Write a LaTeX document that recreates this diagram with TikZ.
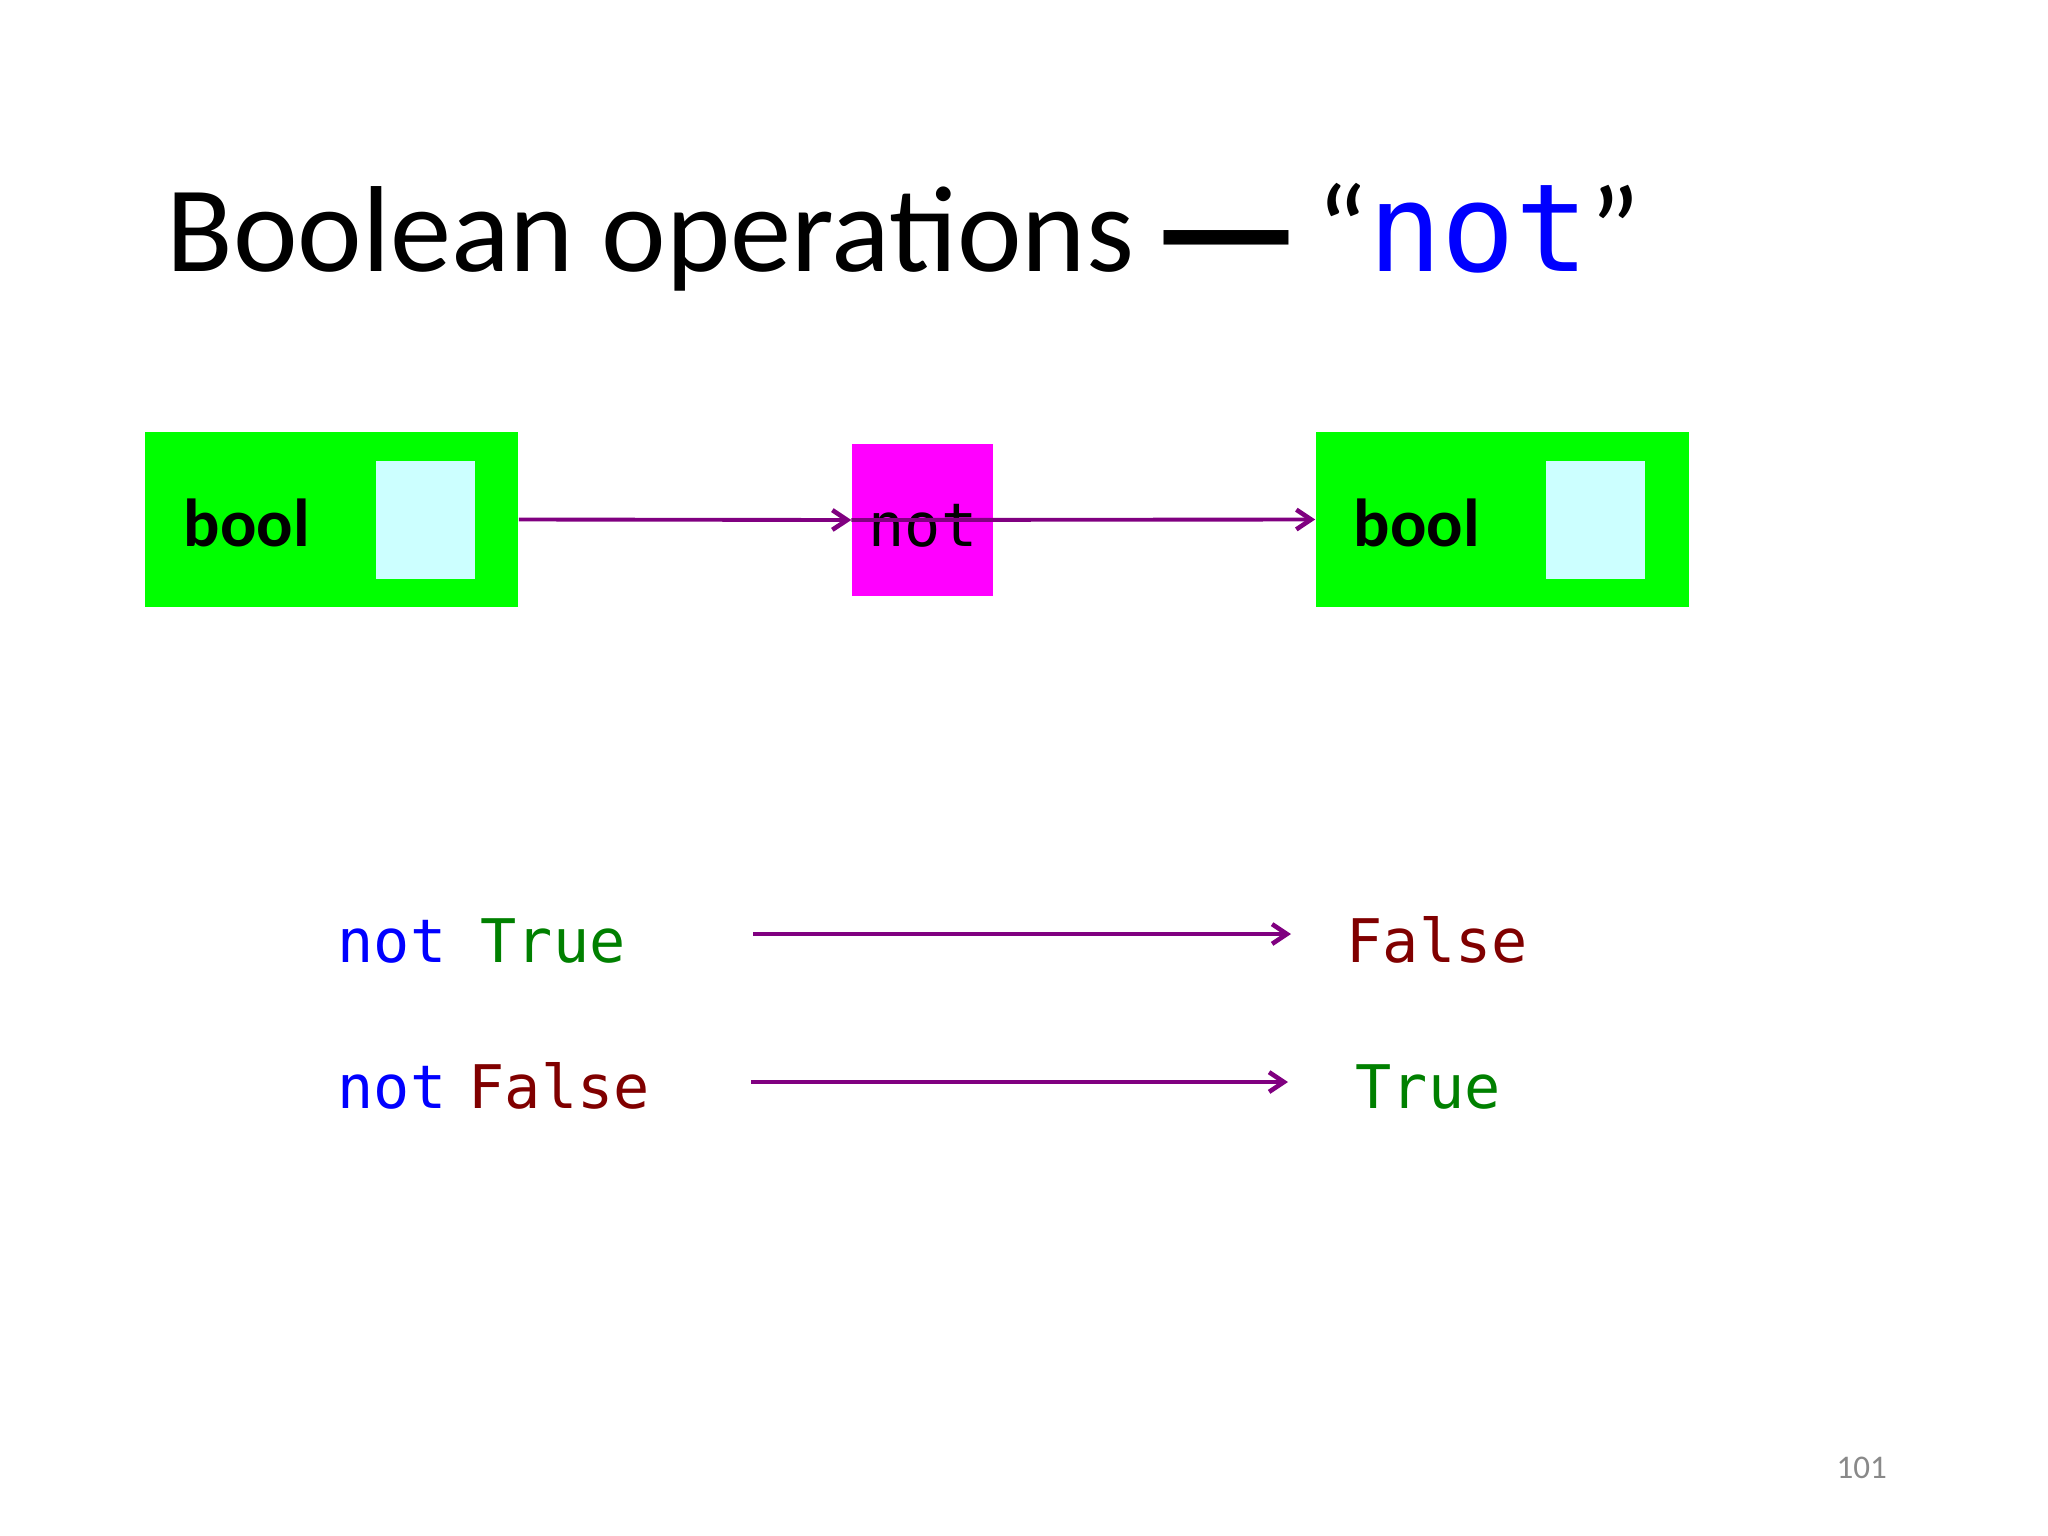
\documentclass[tikz,border=0pt]{standalone}
\usepackage{fontspec}
\setmainfont{Carlito}
\newfontfamily\carl{Carlito}
\newfontfamily\dmono{DejaVu Sans Mono}
\usetikzlibrary{arrows.meta}
\definecolor{kwblue}{RGB}{0,0,255}
\definecolor{truegreen}{RGB}{0,128,0}
\definecolor{falsered}{RGB}{128,0,0}
\definecolor{arrowpurple}{RGB}{128,0,128}
\definecolor{boxgreen}{RGB}{0,255,0}
\definecolor{slotcyan}{RGB}{204,255,255}
\definecolor{fnmagenta}{RGB}{255,0,255}
\definecolor{pagegrey}{RGB}{137,137,137}
\newcommand{\bigdash}{\raisebox{-8.9pt}{\scalebox{1.39}[1.9]{—}}}
\tikzset{
  typebox/.style={fill=boxgreen, draw=none, inner sep=0pt, minimum width=3.73cm, minimum height=1.75cm},
  slotbox/.style={fill=slotcyan, draw=none, inner sep=0pt, minimum width=0.99cm, minimum height=1.17cm},
  fnbox/.style={fill=fnmagenta, draw=none, inner sep=0pt, minimum width=1.41cm, minimum height=1.52cm},
  boollabel/.style={inner sep=0pt, anchor=base west, font=\carl\bfseries\fontsize{19.3pt}{22pt}\selectfont},
  codetxt/.style={inner sep=0pt, anchor=base west, font=\dmono\fontsize{17.1pt}{20pt}\selectfont},
  flow/.style={draw=arrowpurple, line width=1.1pt, -{Straight Barb[length=4.2pt,width=5.6pt,line width=1.3pt]}},
}
\begin{document}
\begin{tikzpicture}[x=0.01cm, y=-0.01cm]
\useasboundingbox (0,0) rectangle (2048,1536);
% title
\node[inner sep=0pt, anchor=base west, font=\carl\fontsize{34.8pt}{40pt}\selectfont] (title) at (166,271)
  {Boolean operations\hspace{4.4pt}\bigdash\hspace{3.8pt}“{\dmono\color{kwblue}not}”};
% boxes
\node[typebox] (lb) at (331.5,519.5) {};
\node[slotbox] (ls) at (425.5,520) {};
\node[boollabel] (lbl) at (183,546) {bool};
\node[fnbox] (nb) at (922.5,520) {};
\node[codetxt] (nbl) at (868,546) {not};
\node[typebox] (rb) at (1502.5,519.5) {};
\node[slotbox] (rs) at (1595.5,520) {};
\node[boollabel] (rbl) at (1353,546) {bool};
\draw[flow] (lb.east) -- (nb.west);
\draw[flow] (nb.west) -- (rb.west);
% examples
\node[codetxt, text=kwblue] (n1) at (337,962) {not};
\node[codetxt, text=truegreen] (t1) at (480,962) {True};
\node[codetxt, text=falsered] (r1) at (1346,962) {False};
\node[codetxt, text=kwblue] (n2) at (337,1108) {not};
\node[codetxt, text=falsered] (f2) at (468,1108) {False};
\node[codetxt, text=truegreen] (r2) at (1355,1108) {True};
\coordinate (a1s) at (753,934);
\coordinate (a1e) at (1291,934);
\coordinate (a2s) at (751,1082);
\coordinate (a2e) at (1288,1082);
\draw[flow] (a1s) -- (a1e);
\draw[flow] (a2s) -- (a2e);
% page number
\node[inner sep=0pt, anchor=base west, text=pagegrey, font=\carl\fontsize{9.4pt}{11pt}\selectfont] (page) at (1836,1478) {101};
\end{tikzpicture}
\end{document}
